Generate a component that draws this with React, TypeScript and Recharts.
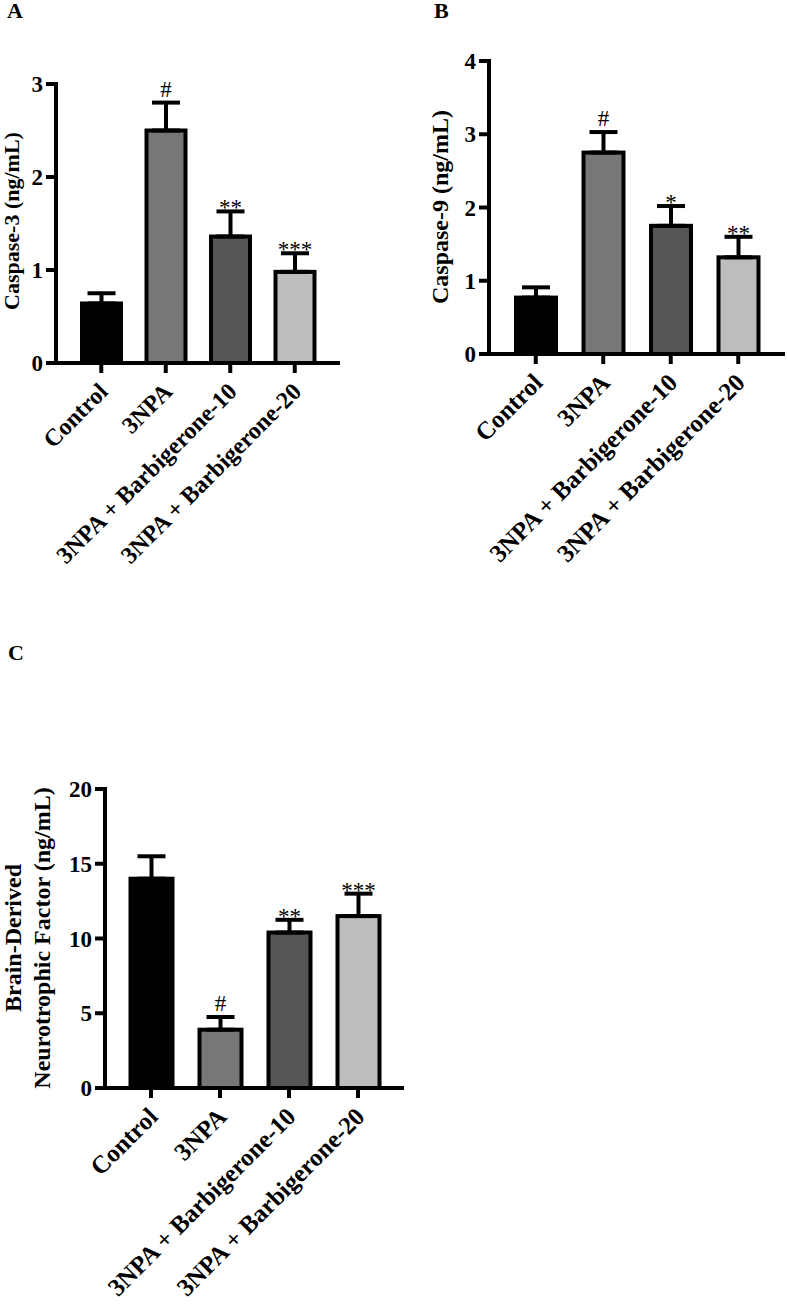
import React from 'react';
import { BarChart, Bar, XAxis, YAxis, ErrorBar } from 'recharts';

const groups = ['Control', '3NPA', '3NPA + Barbigerone-10', '3NPA + Barbigerone-20'];
const fills = ['#000000', '#777777', '#555555', '#bdbdbd'];

const casp3Mean = [0.64, 2.5, 1.36, 0.98];
const casp3Sem = [0.11, 0.3, 0.27, 0.2];
const casp3Sig = ['', '#', '**', '***'];
const casp3Ticks = [0, 1, 2, 3];

const casp9Mean = [0.77, 2.75, 1.75, 1.32];
const casp9Sem = [0.14, 0.28, 0.27, 0.28];
const casp9Sig = ['', '#', '*', '**'];
const casp9Ticks = [0, 1, 2, 3, 4];

const bdnfMean = [14.0, 3.9, 10.4, 11.5];
const bdnfSem = [1.5, 0.85, 0.85, 1.5];
const bdnfSig = ['', '#', '**', '***'];
const bdnfTicks = [0, 5, 10, 15, 20];

const FONT = '"Liberation Serif", "Times New Roman", serif';

const makeRows = (mean: number[], sem: number[], sig: string[]) =>
  groups.map((g, i) => ({ group: g, mean: mean[i], sem: sem[i], err: [0, sem[i]], sig: sig[i], fill: fills[i] }));

// bar rectangle + significance mark above the error cap
const BarShape = (props: any) => {
  const { x, y, width, height, payload } = props;
  const perUnit = height / payload.mean;
  const capY = y - payload.sem * perUnit;
  const isHash = payload.sig === '#';
  return (
    <g>
      <rect x={x} y={y} width={width} height={height} fill={payload.fill} stroke="#000" strokeWidth={4} />
      {payload.sig ? (
        <text x={x + width / 2} y={isHash ? capY - 6 : capY + 4} textAnchor="middle" fontSize={23} fontFamily={FONT} fill="#000">
          {payload.sig}
        </text>
      ) : null}
    </g>
  );
};

const CategoryTick = ({ x, y, payload, size }: any) => (
  <g transform={`translate(${x + 2},${y + 14})`}>
    <text transform="rotate(-45)" textAnchor="end" dy="0.35em" fontSize={size} fontWeight="bold" fontFamily={FONT} fill="#000">
      {payload.value}
    </text>
  </g>
);

const axisLine = { stroke: '#000', strokeWidth: 4, strokeLinecap: 'square' as const };
const tickLine = { stroke: '#000', strokeWidth: 4 };
const yTick = { fontSize: 23, fontWeight: 'bold', fill: '#000', fontFamily: FONT };

interface PanelProps {
  rows: any[];
  ticks: number[];
  width: number;
  plotBottom: number;
  xAxisH: number;
  top: number;
  yWidth: number;
  pad: number;
  barSize: number;
  catSize: number;
  title: string[];
  titleX: number[];
  titleY: number;
  titleSize: number;
}

function Panel(p: PanelProps) {
  const max = p.ticks[p.ticks.length - 1];
  return (
    <BarChart width={p.width} height={p.plotBottom + p.xAxisH} data={p.rows} margin={{ top: p.top, right: 0, bottom: 0, left: 0 }}>
      <XAxis
        dataKey="group"
        interval={0}
        height={p.xAxisH}
        padding={{ left: p.pad, right: p.pad }}
        axisLine={axisLine}
        tickLine={tickLine}
        tickSize={10}
        tickMargin={0}
        tick={<CategoryTick size={p.catSize} />}
      />
      <YAxis
        width={p.yWidth}
        domain={[0, max]}
        ticks={p.ticks}
        interval={0}
        axisLine={axisLine}
        tickLine={tickLine}
        tickSize={10}
        tickMargin={3}
        tick={yTick}
        label={{
          content: () => (
            <g>
              {p.title.map((t, i) => (
                <text
                  key={t}
                  transform={`translate(${p.titleX[i]},${p.titleY}) rotate(-90)`}
                  textAnchor="middle"
                  fontSize={p.titleSize}
                  fontWeight="bold"
                  fontFamily={FONT}
                  fill="#000"
                >
                  {t}
                </text>
              ))}
            </g>
          ),
        }}
      />
      <Bar dataKey="mean" barSize={p.barSize} shape={<BarShape />} isAnimationActive={false}>
        <ErrorBar dataKey="err" width={14} strokeWidth={4} stroke="#000" direction="y" />
      </Bar>
    </BarChart>
  );
}

const letter = (txt: string, left: number, top: number) => (
  <div style={{ position: 'absolute', left, top, fontFamily: FONT, fontWeight: 'bold', fontSize: 22, lineHeight: '22px' }}>{txt}</div>
);

export default function App() {
  return (
    <div style={{ position: 'relative', width: 788, height: 1306, background: '#fff' }}>
      <style>{'body{margin:0}'}</style>
      {letter('A', 7, 0)}
      {letter('B', 434, 0)}
      {letter('C', 8, 642)}
      <div style={{ position: 'absolute', left: 0, top: 0 }}>
        <Panel
          rows={makeRows(casp3Mean, casp3Sem, casp3Sig)}
          ticks={casp3Ticks}
          width={340}
          plotBottom={363}
          xAxisH={260}
          top={84}
          yWidth={56}
          pad={13}
          barSize={39}
          catSize={24}
          title={['Caspase-3 (ng/mL)']}
          titleX={[19]}
          titleY={221}
          titleSize={22}
        />
      </div>
      <div style={{ position: 'absolute', left: 410, top: 0 }}>
        <Panel
          rows={makeRows(casp9Mean, casp9Sem, casp9Sig)}
          ticks={casp9Ticks}
          width={375}
          plotBottom={354}
          xAxisH={270}
          top={61}
          yWidth={79}
          pad={13}
          barSize={40}
          catSize={25}
          title={['Caspase-9 (ng/mL)']}
          titleX={[38]}
          titleY={207}
          titleSize={24}
        />
      </div>
      <div style={{ position: 'absolute', left: 0, top: 700 }}>
        <Panel
          rows={makeRows(bdnfMean, bdnfSem, bdnfSig)}
          ticks={bdnfTicks}
          width={404}
          plotBottom={388}
          xAxisH={218}
          top={89}
          yWidth={105}
          pad={11.5}
          barSize={42}
          catSize={25}
          title={['Brain-Derived', 'Neurotrophic Factor (ng/mL)']}
          titleX={[21, 50]}
          titleY={238}
          titleSize={24}
        />
      </div>
    </div>
  );
}
